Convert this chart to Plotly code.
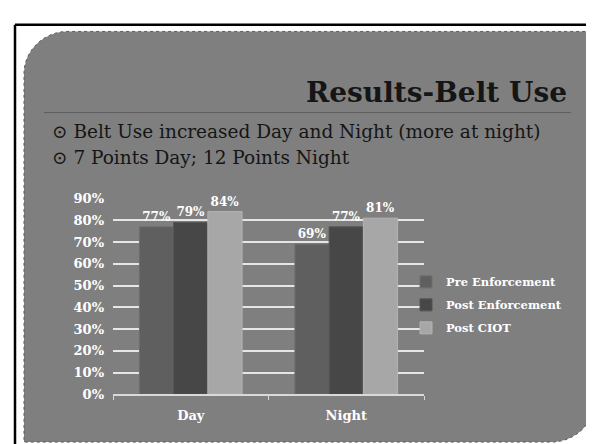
import plotly.graph_objects as go

# ---- data ----
categories = ["Day", "Night"]
series_names = ["Pre Enforcement", "Post Enforcement", "Post CIOT"]
pre_enforcement = [77, 69]
post_enforcement = [79, 77]
post_ciot = [84, 81]
y_ticks = [0, 10, 20, 30, 40, 50, 60, 70, 80, 90]

title_text = "Results-Belt Use"
bullet_lines = [
    "\u2299 Belt Use increased Day and Night (more at night)",
    "\u2299 7 Points Day; 12 Points Night",
]

W, H = 594, 444
def px(x):
    return x / W
def py(y):
    return 1 - y / H

series_values = [pre_enforcement, post_enforcement, post_ciot]
colors = ["#5f5f5f", "#474747", "#a7a7a7"]
edge = ["#6e6e6e", "#555555", "#b4b4b4"]

SERIF = "DejaVu Serif"

fig = go.Figure()
for i, (name, vals) in enumerate(zip(series_names, series_values)):
    fig.add_trace(go.Bar(
        x=categories, y=vals, name=name,
        marker=dict(color=colors[i], line=dict(color=edge[i], width=1)),
        text=[f"{v}%" for v in vals], textposition="outside",
        textfont=dict(family=SERIF, size=12, color="white", weight="bold"),
        cliponaxis=False, legendgroup=f"g{i}",
    ))

# panel shape (rounded top-left and bottom-right corners)
L, T, R, B = 16, 17, 587, 442
r1, r2 = 44, 44
k = 0.5523
def P(x, y):
    return f"{px(x):.5f},{py(y):.5f}"
path = (
    f"M {P(L, T + r1)} "
    f"C {P(L, T + r1 - k * r1)} {P(L + r1 - k * r1, T)} {P(L + r1, T)} "
    f"L {P(R, T)} L {P(R, B - r2)} "
    f"C {P(R, B - r2 + k * r2)} {P(R - r2 + k * r2, B)} {P(R - r2, B)} "
    f"L {P(L, B)} Z"
)
shapes = [
    dict(type="path", xref="paper", yref="paper", path=path,
         fillcolor="#7f7f7f", line=dict(color="#5a5a5a", width=1, dash="dot"),
         layer="below"),
    # black frame
    dict(type="line", xref="paper", yref="paper", x0=px(7), x1=px(594),
         y0=py(10), y1=py(10), line=dict(color="black", width=2.5), layer="below"),
    dict(type="line", xref="paper", yref="paper", x0=px(7), x1=px(7),
         y0=py(10), y1=py(444), line=dict(color="black", width=2.5), layer="below"),
    # rule under title
    dict(type="line", xref="paper", yref="paper", x0=px(36), x1=px(563),
         y0=py(101), y1=py(101), line=dict(color="#5e5e5e", width=1), layer="below"),
]

annotations = [
    dict(text=title_text, xref="paper", yref="paper", x=px(561), y=py(80),
         xanchor="right", yanchor="middle", showarrow=False,
         font=dict(family=SERIF, size=28, color="#151515", weight="bold")),
]
for j, line in enumerate(bullet_lines):
    annotations.append(dict(
        text=line, xref="paper", yref="paper", x=px(42), y=py(121 + 27 * j),
        xanchor="left", yanchor="middle", showarrow=False,
        font=dict(family=SERIF, size=18.5, color="#151515")))

fig.update_layout(
    width=W, height=H,
    margin=dict(l=0, r=0, t=0, b=0),
    paper_bgcolor="white", plot_bgcolor="rgba(0,0,0,0)",
    barmode="group", bargap=0.34, bargroupgap=0,
    shapes=shapes, annotations=annotations,
    showlegend=True,
    legend=dict(x=px(398), y=py(300), xanchor="left", yanchor="middle",
                bgcolor="rgba(0,0,0,0)", tracegroupgap=4, itemwidth=30,
                font=dict(family=SERIF, size=11.5, color="white", weight="bold")),
    xaxis=dict(domain=[px(105), px(416)], showgrid=False,
               showline=True, linecolor="#d9d9d9", linewidth=1.5,
               ticks="outside", tickson="boundaries", ticklen=4, tickcolor="#d9d9d9",
               ticklabelstandoff=8,
               tickfont=dict(family=SERIF, size=13, color="white", weight="bold")),
    yaxis=dict(domain=[py(392.5), py(190)], range=[0, 90],
               tickvals=y_ticks, ticktext=[f"{t}%" for t in y_ticks],
               showgrid=True, gridcolor="#e6e6e6", gridwidth=1.5,
               zeroline=False, showline=False, ticks="",
               ticklabelstandoff=8,
               tickfont=dict(family=SERIF, size=13, color="white", weight="bold")),
)

fig.write_html("out.html")
